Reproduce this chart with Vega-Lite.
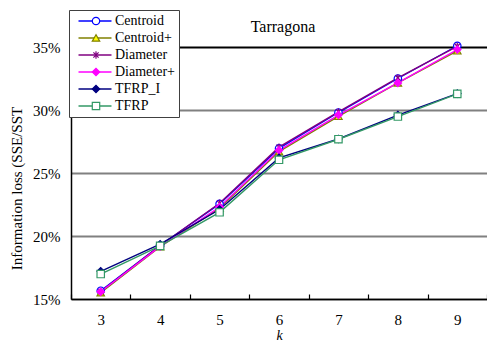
{
  "$schema": "https://vega.github.io/schema/vega-lite/v6.json",
  "width": 416,
  "height": 252,
  "autosize": {"type": "none"},
  "padding": {"left": 71, "top": 47, "right": 0, "bottom": 48},
  "background": "white",
  "config": {
    "view": {"stroke": null},
    "font": "'Liberation Serif', 'DejaVu Serif', serif",
    "axis": {"labelFont": "'Liberation Serif', 'DejaVu Serif', serif", "titleFont": "'Liberation Serif', 'DejaVu Serif', serif", "labelColor": "black", "titleColor": "black"},
    "legend": {"labelFont": "'Liberation Serif', 'DejaVu Serif', serif"}
  },
  "title": {
    "text": "Tarragona",
    "fontSize": 16,
    "font": "'Liberation Serif', 'DejaVu Serif', serif",
    "fontWeight": "normal",
    "color": "black",
    "anchor": "middle",
    "dx": 4,
    "offset": -25
  },
  "data": {
    "values": [
      {"k": 3, "method": "Centroid", "loss": 0.1566},
      {"k": 4, "method": "Centroid", "loss": 0.1925},
      {"k": 5, "method": "Centroid", "loss": 0.2255},
      {"k": 6, "method": "Centroid", "loss": 0.2695},
      {"k": 7, "method": "Centroid", "loss": 0.2980},
      {"k": 8, "method": "Centroid", "loss": 0.3250},
      {"k": 9, "method": "Centroid", "loss": 0.3510},
      {"k": 3, "method": "Centroid+", "loss": 0.1550},
      {"k": 4, "method": "Centroid+", "loss": 0.1915},
      {"k": 5, "method": "Centroid+", "loss": 0.2220},
      {"k": 6, "method": "Centroid+", "loss": 0.2670},
      {"k": 7, "method": "Centroid+", "loss": 0.2950},
      {"k": 8, "method": "Centroid+", "loss": 0.3215},
      {"k": 9, "method": "Centroid+", "loss": 0.3470},
      {"k": 3, "method": "Diameter", "loss": 0.1560},
      {"k": 4, "method": "Diameter", "loss": 0.1925},
      {"k": 5, "method": "Diameter", "loss": 0.2260},
      {"k": 6, "method": "Diameter", "loss": 0.2705},
      {"k": 7, "method": "Diameter", "loss": 0.2985},
      {"k": 8, "method": "Diameter", "loss": 0.3255},
      {"k": 9, "method": "Diameter", "loss": 0.3505},
      {"k": 3, "method": "Diameter+", "loss": 0.1558},
      {"k": 4, "method": "Diameter+", "loss": 0.1918},
      {"k": 5, "method": "Diameter+", "loss": 0.2230},
      {"k": 6, "method": "Diameter+", "loss": 0.2680},
      {"k": 7, "method": "Diameter+", "loss": 0.2960},
      {"k": 8, "method": "Diameter+", "loss": 0.3215},
      {"k": 9, "method": "Diameter+", "loss": 0.3480},
      {"k": 3, "method": "TFRP_I", "loss": 0.1720},
      {"k": 4, "method": "TFRP_I", "loss": 0.1935},
      {"k": 5, "method": "TFRP_I", "loss": 0.2210},
      {"k": 6, "method": "TFRP_I", "loss": 0.2620},
      {"k": 7, "method": "TFRP_I", "loss": 0.2770},
      {"k": 8, "method": "TFRP_I", "loss": 0.2960},
      {"k": 9, "method": "TFRP_I", "loss": 0.3130},
      {"k": 3, "method": "TFRP", "loss": 0.1698},
      {"k": 4, "method": "TFRP", "loss": 0.1922},
      {"k": 5, "method": "TFRP", "loss": 0.2188},
      {"k": 6, "method": "TFRP", "loss": 0.2605},
      {"k": 7, "method": "TFRP", "loss": 0.2768},
      {"k": 8, "method": "TFRP", "loss": 0.2948},
      {"k": 9, "method": "TFRP", "loss": 0.3128}
    ]
  },
  "encoding": {
    "x": {
      "field": "k",
      "type": "ordinal",
      "scale": {"type": "band", "paddingInner": 0, "paddingOuter": 0},
      "axis": {
        "title": "k",
        "titleFontStyle": "italic",
        "titleFontWeight": "normal",
        "titleFontSize": 14,
        "titlePadding": 1,
        "labelAngle": 0,
        "labelFontSize": 15,
        "labelPadding": 18,
        "tickBand": "extent",
        "tickSize": -5,
        "tickColor": "black",
        "tickWidth": 1.2,
        "domainColor": "black",
        "domainWidth": 1.5,
        "grid": false
      }
    },
    "y": {
      "field": "loss",
      "type": "quantitative",
      "scale": {"domain": [0.15, 0.35], "nice": false, "zero": false},
      "axis": {
        "title": "Information loss (SSE/SST",
        "titleFontWeight": "normal",
        "titleFontSize": 15,
        "titleAngle": -90,
        "titleX": -55,
        "titleY": 141,
        "titleAlign": "center",
        "titleBaseline": "middle",
        "values": [0.15, 0.2, 0.25, 0.3, 0.35],
        "format": ".0%",
        "labelFontSize": 15,
        "labelPadding": 11,
        "tickSize": 0,
        "domainColor": "black",
        "domainWidth": 1.5,
        "grid": true,
        "gridWidth": 2,
        "gridColor": {"condition": {"test": "datum.value >= 0.35", "value": "black"}, "value": "#808080"}
      }
    }
  },
  "layer": [
    {
      "mark": {"type": "line", "strokeWidth": 1.4},
      "encoding": {
        "color": {
          "field": "method",
          "type": "nominal",
          "sort": ["Centroid", "Centroid+", "Diameter", "Diameter+", "TFRP_I", "TFRP"],
          "scale": {
            "range": ["#0000ff", "#808000", "#800080", "#ff00ff", "#000080", "#339966"]
          },
          "legend": {
            "title": null,
            "orient": "none",
            "legendX": -2,
            "legendY": -37,
            "symbolType": "M-4,0H4",
            "symbolSize": 68,
            "symbolStrokeWidth": 1.5,
            "symbolOffset": 15,
            "labelFont": "'Liberation Serif', 'DejaVu Serif', serif",
            "labelFontSize": 14,
            "labelColor": "black",
            "labelOffset": 13,
            "rowPadding": 3,
            "padding": 4,
            "fillColor": "white",
            "strokeColor": "#404040"
          }
        }
      }
    },
    {
      "mark": {"type": "point", "filled": true, "opacity": 1, "strokeWidth": 1.2, "size": 55},
      "encoding": {
        "shape": {
          "field": "method",
          "type": "nominal",
          "scale": {
            "domain": ["Centroid", "Centroid+", "Diameter", "Diameter+", "TFRP_I", "TFRP"],
            "range": [
              "circle",
              "triangle-up",
              "M-0.7,-0.7L0.7,0.7M-0.7,0.7L0.7,-0.7M0,-1L0,1",
              "diamond",
              "diamond",
              "square"
            ]
          },
          "legend": {
            "title": null,
            "orient": "none",
            "legendX": -2,
            "legendY": -37,
            "labelExpr": "''",
            "labelFontSize": 14,
            "rowPadding": 3,
            "padding": 4,
            "symbolOffset": 16,
            "symbolSize": 55,
            "symbolStrokeWidth": 1.2
          }
        },
        "fill": {
          "field": "method",
          "type": "nominal",
          "scale": {
            "domain": ["Centroid", "Centroid+", "Diameter", "Diameter+", "TFRP_I", "TFRP"],
            "range": ["#ffffff", "#ffff00", "#800080", "#ff00ff", "#000080", "#ffffff"]
          }
        },
        "stroke": {
          "field": "method",
          "type": "nominal",
          "scale": {
            "domain": ["Centroid", "Centroid+", "Diameter", "Diameter+", "TFRP_I", "TFRP"],
            "range": ["#0000ff", "#808000", "#800080", "#ff00ff", "#000080", "#339966"]
          }
        }
      }
    }
  ]
}
